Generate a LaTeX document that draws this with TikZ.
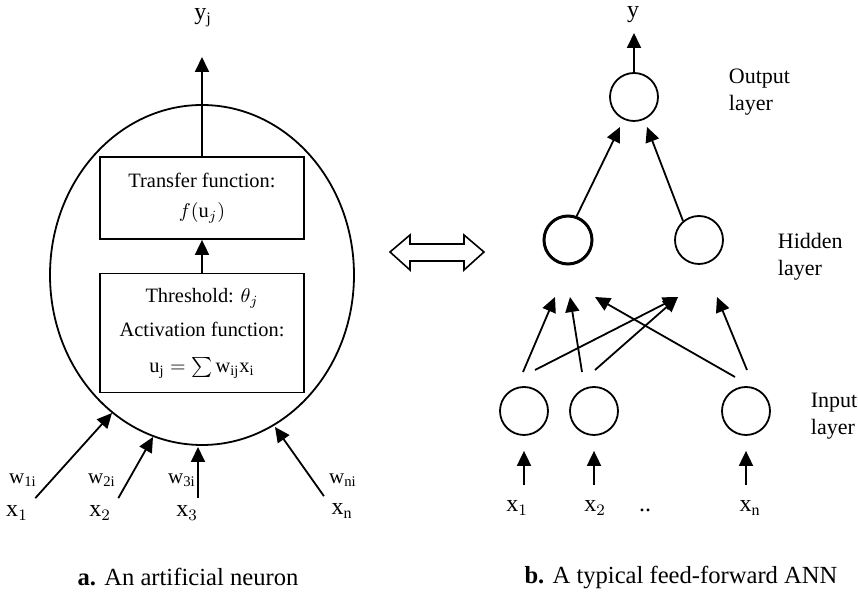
\documentclass[tikz,border=0pt]{standalone}
\usepackage{fontspec}
\setmainfont{Liberation Serif}
\usetikzlibrary{arrows.meta}

\begin{document}
\begin{tikzpicture}[x=0.5pt,y=-0.5pt,>={Triangle[length=7.5pt,width=7pt]},line width=0.9pt,
  every node/.style={font=\fontsize{12}{14}\selectfont},
  fbox/.style={draw, align=center, minimum width=102pt, font=\fontsize{10.2}{14}\selectfont},
  unit/.style={draw, circle, minimum size=24pt, inner sep=0pt},
  lbl/.style={align=left, inner sep=0pt, anchor=west, font=\fontsize{11}{13.5}\selectfont},
  wlbl/.style={font=\fontsize{10.5}{12}\selectfont},
  caption/.style={font=\fontsize{12.3}{14}\selectfont}]
  \useasboundingbox (0,0) rectangle (858,592);

  % a. the single neuron
  \draw (202,275) ellipse (152 and 170);
  \node[fbox, minimum height=41pt] (transfer) at (202,198) {Transfer function:\\[1pt] $f(\mathrm{u}_j)$};
  \node[fbox, minimum height=59.5pt] (activation) at (202,333)
    {Threshold: $\theta_j$\\[3pt] Activation function:\\[4pt] $\mathrm{u_j}=\sum \mathrm{w_{ij}x_i}$};
  \draw[->] (activation) -- (transfer);

  % output of the neuron
  \node (yj) at (203,18) {$\mathrm{y_j}$};
  \coordinate (yout) at (202,57);
  \draw[->] (transfer) -- (yout);

  % weighted inputs
  \node (x1) at (17,513) {$\mathrm{x}_1$};
  \node (x2) at (100,513) {$\mathrm{x}_2$};
  \node (x3) at (187,513) {$\mathrm{x}_3$};
  \node (xn) at (342,511) {$\mathrm{x_n}$};
  \node[wlbl] (w1) at (23,480) {$\mathrm{w_{1i}}$};
  \node[wlbl] (w2) at (102,480) {$\mathrm{w_{2i}}$};
  \node[wlbl] (w3) at (182,480) {$\mathrm{w_{3i}}$};
  \node[wlbl] (wn) at (343,480) {$\mathrm{w_{ni}}$};
  \coordinate (t1) at (112,413);
  \coordinate (t2) at (153,437);
  \coordinate (t3) at (198,447);
  \coordinate (tn) at (275,427);
  \draw[->] (x1.north east) -- (t1);
  \draw[->] (x2.north east) -- (t2);
  \draw[->] (t3 |- x3.north) -- (t3);
  \draw[->] (xn.north west) -- (tn);

  % equivalence
  \draw[line width=0.8pt] (390,252) -- (410,235) -- (410,244) -- (464,244) -- (464,235) -- (484,252)
    -- (464,270) -- (464,261) -- (410,261) -- (410,270) -- cycle;

  % b. the network
  \node[unit] (out) at (634,97) {};
  \node[unit, line width=1.5pt] (h1) at (568,240) {};
  \node[unit] (h2) at (699,240) {};
  \node[unit] (i1) at (524,411) {};
  \node[unit] (i2) at (594,411) {};
  \node[unit] (i3) at (746,411) {};

  \node[lbl] (outlbl) at (728,92) {Output\\ layer};
  \node[lbl] (hidlbl) at (777,257) {Hidden\\ layer};
  \node[lbl] (inlbl) at (810,416) {Input\\ layer};

  % output arrow
  \node (y) at (633,15) {$\mathrm{y}$};
  \coordinate (yend) at (634,33);
  \draw[->] (out.north) -- (yend);

  % hidden to output
  \coordinate (to1) at (620,127);
  \coordinate (to2) at (647,127);
  \draw[->] (h1.70) -- (to1);
  \draw[->] (h2.130) -- (to2);

  % input to hidden
  \coordinate (ti1a) at (523,372);
  \coordinate (ti1b) at (535,370);
  \coordinate (ti2a) at (582,372);
  \coordinate (ti2b) at (595,370);
  \coordinate (ti3a) at (735,377);
  \coordinate (ti3b) at (747,370);
  \coordinate (th1a) at (555,297);
  \coordinate (th1b) at (570,297);
  \coordinate (th1c) at (595,297);
  \coordinate (th2a) at (678,297);
  \coordinate (th2b) at (717,297);
  \draw[->] (ti1a) -- (th1a);
  \draw[->] (ti2a) -- (th1b);
  \draw[->] (ti1b) -- (th2a);
  \draw[->] (ti2b) -- (th2a);
  \draw[->] (ti3a) -- (th1c);
  \draw[->] (ti3b) -- (th2b);

  % network inputs
  \node (rx1) at (517,508) {$\mathrm{x}_1$};
  \node (rx2) at (595,508) {$\mathrm{x}_2$};
  \node (dots) at (645,510) {..};
  \node (rxn) at (750,508) {$\mathrm{x_n}$};
  \draw[->, shorten <=4pt, shorten >=7.5pt] (rx1.north -| i1) -- (i1.south);
  \draw[->, shorten <=4pt, shorten >=7.5pt] (rx2.north -| i2) -- (i2.south);
  \draw[->, shorten <=4pt, shorten >=7.5pt] (rxn.north -| i3) -- (i3.south);

  % captions
  \node[caption] (capa) at (188,577) {\textbf{a.} An artificial neuron};
  \node[caption] (capb) at (681,577) {\textbf{b.} A typical feed-forward ANN};
\end{tikzpicture}
\end{document}
